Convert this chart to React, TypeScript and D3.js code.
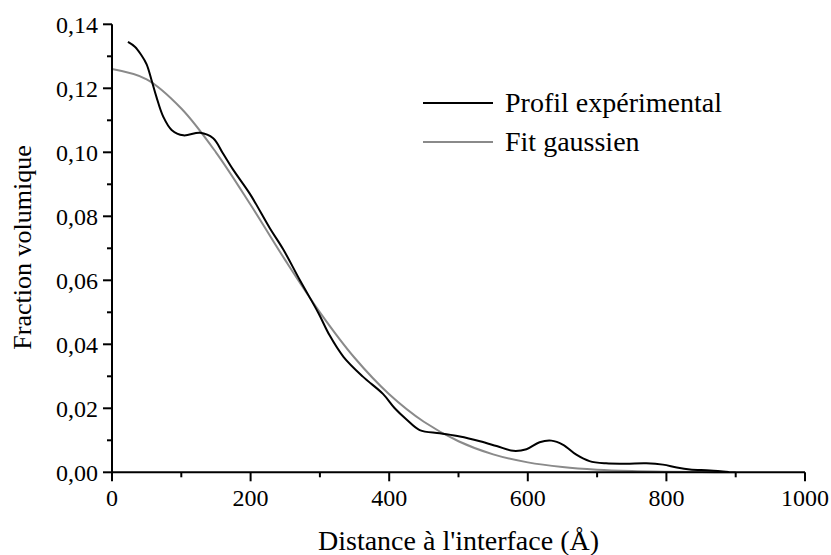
import React from "react";
import * as d3 from "d3";

const expDistance = [23, 33, 42, 50, 57, 64, 74, 86, 103, 127, 146, 160, 175, 199, 228, 247, 271, 298, 314, 334, 362, 391, 408, 425, 444, 473, 502, 531, 555, 579, 598, 617, 634, 651, 670, 689, 713, 742, 771, 795, 815, 834, 863, 890];
const expFraction = [0.1345, 0.133, 0.1305, 0.1275, 0.1226, 0.1174, 0.1111, 0.107, 0.1053, 0.1061, 0.1044, 0.0997, 0.0945, 0.087, 0.0762, 0.0697, 0.0601, 0.0497, 0.0428, 0.0361, 0.0299, 0.0245, 0.02, 0.0165, 0.0132, 0.0122, 0.0112, 0.0097, 0.0082, 0.0067, 0.0072, 0.0094, 0.0099, 0.0086, 0.0055, 0.0035, 0.0028, 0.0027, 0.0028, 0.0024, 0.0015, 0.0009, 0.0006, 0.0001];

const fitDistance = [0, 50, 100, 150, 200, 250, 300, 350, 400, 450, 500, 550, 600, 650, 700, 750, 800, 850, 900];
const fitFraction = [0.126, 0.1228, 0.1137, 0.1, 0.0836, 0.0663, 0.05, 0.0358, 0.0244, 0.0158, 0.0097, 0.0056, 0.0031, 0.00165, 0.00082, 0.00039, 0.00018, 0.00007, 0.00002];

const xMajorTicks = [0, 200, 400, 600, 800, 1000];
const xMinorTicks = [100, 300, 500, 700, 900];
const yMajorTicks = [0, 0.02, 0.04, 0.06, 0.08, 0.1, 0.12, 0.14];
const yMinorTicks = [0.01, 0.03, 0.05, 0.07, 0.09, 0.11, 0.13];

const seriesNames = ["Profil expérimental", "Fit gaussien"];
const xTitle = "Distance à l'interface (Å)";
const yTitle = "Fraction volumique";

export default function App() {
  const W = 831, H = 555;
  const left = 112, right = 805, top = 24.3, bottom = 472.3;
  const x = d3.scaleLinear().domain([0, 1000]).range([left, right]);
  const y = d3.scaleLinear().domain([0, 0.14]).range([bottom, top]);
  const font = "'Liberation Serif', 'Times New Roman', serif";

  const line = d3
    .line<[number, number]>()
    .x((d) => x(d[0]))
    .y((d) => y(d[1]))
    .curve(d3.curveCatmullRom.alpha(0.5));

  const expData: [number, number][] = expDistance.map((d, i) => [d, expFraction[i]]);
  const fitData: [number, number][] = fitDistance.map((d, i) => [d, fitFraction[i]]);
  const fmt = (v: number) => v.toFixed(2).replace(".", ",");

  return (
    <svg width={W} height={H} style={{ position: "absolute", left: 0, top: 0, background: "#fff" }} fontFamily={font}>
      <rect x={0} y={0} width={W} height={H} fill="#fff" />
      <path d={line(fitData) || ""} fill="none" stroke="#8a8a8a" strokeWidth={2} />
      <path d={line(expData) || ""} fill="none" stroke="#000" strokeWidth={2} />

      {/* axes */}
      <line x1={left} x2={left} y1={top} y2={bottom + 1} stroke="#000" strokeWidth={2} />
      <line x1={left - 1} x2={right} y1={bottom} y2={bottom} stroke="#000" strokeWidth={2} />

      {xMajorTicks.map((t) => (
        <g key={"xm" + t}>
          <line x1={x(t)} x2={x(t)} y1={bottom} y2={bottom + 9} stroke="#000" strokeWidth={2} />
          <text x={x(t)} y={506} fontSize={24} textAnchor="middle" fill="#000">{t}</text>
        </g>
      ))}
      {xMinorTicks.map((t) => (
        <line key={"xn" + t} x1={x(t)} x2={x(t)} y1={bottom} y2={bottom + 5} stroke="#000" strokeWidth={2} />
      ))}
      {yMajorTicks.map((t) => (
        <g key={"ym" + t}>
          <line x1={left - 9} x2={left} y1={y(t)} y2={y(t)} stroke="#000" strokeWidth={2} />
          <text x={98} y={y(t) + 8.5} fontSize={24} textAnchor="end" fill="#000">{fmt(t)}</text>
        </g>
      ))}
      {yMinorTicks.map((t) => (
        <line key={"yn" + t} x1={left - 5} x2={left} y1={y(t)} y2={y(t)} stroke="#000" strokeWidth={2} />
      ))}

      <text x={(left + right) / 2} y={550} fontSize={28} textAnchor="middle" fill="#000">{xTitle}</text>
      <text transform={`translate(31, 247.5) rotate(-90)`} fontSize={26} textAnchor="middle" fill="#000">{yTitle}</text>

      {/* legend */}
      <line x1={423} x2={493} y1={103} y2={103} stroke="#000" strokeWidth={2} />
      <text x={505} y={112} fontSize={28} fill="#000">{seriesNames[0]}</text>
      <line x1={423} x2={493} y1={142} y2={142} stroke="#8a8a8a" strokeWidth={2} />
      <text x={505} y={151} fontSize={28} fill="#000">{seriesNames[1]}</text>
    </svg>
  );
}
